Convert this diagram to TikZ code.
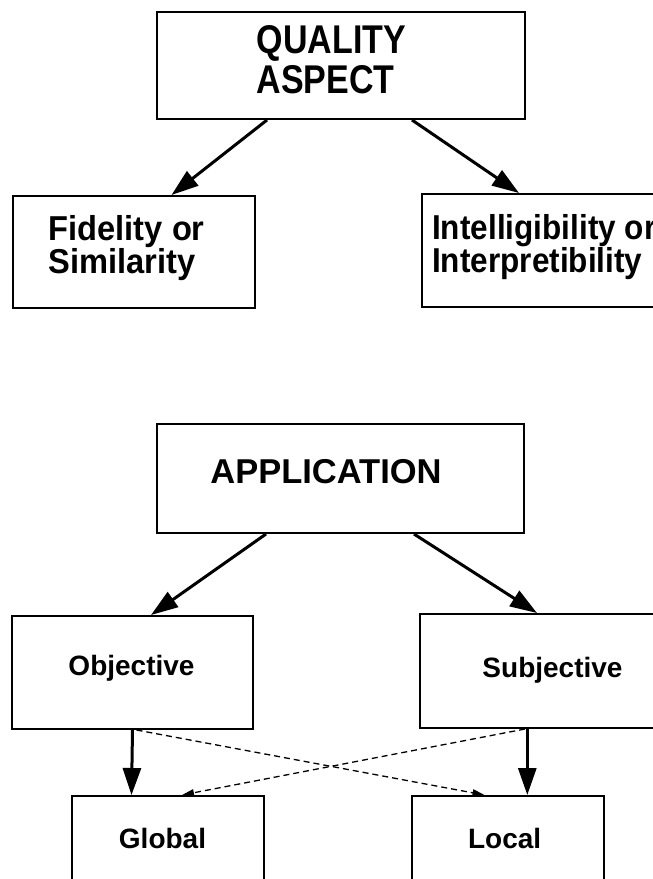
\documentclass[tikz,border=0pt]{standalone}
\usepackage{fontspec}
\setmainfont{Liberation Sans}
\usetikzlibrary{arrows.meta,calc}
\newcommand{\tallA}[1]{\scalebox{1}[1.18]{#1}}
\newcommand{\tallB}[1]{\scalebox{1.02}[1.08]{#1}}
\newcommand{\tallC}[1]{\scalebox{0.985}[1.08]{#1}}
\begin{document}
\begin{tikzpicture}[x=1pt,y=-1pt,
  box/.style={draw, line width=2pt, rectangle, inner sep=0pt},
  lbl/.style={inner sep=0pt, align=left},
  bigtxt/.style={font=\bfseries\fontsize{34}{40}\selectfont},
  aptxt/.style={font=\bfseries\fontsize{34.5}{37}\selectfont},
  midtxt/.style={font=\bfseries\fontsize{32}{33.5}\selectfont},
  smltxt/.style={font=\bfseries\fontsize{28}{30}\selectfont},
  arr/.style={line width=3pt, -{Triangle[length=27pt,width=18pt]}},
  darr/.style={line width=1.3pt, dash pattern=on 6pt off 4pt, -{Triangle[length=12pt,width=7pt]}}
]
\useasboundingbox (0,0) rectangle (653,879);
\clip (0,0) rectangle (653,879);

% boxes
\node[box, minimum width=368pt, minimum height=107pt] (qa) at (340.5,65.5) {};
\node[box, minimum width=242pt, minimum height=112pt] (fs) at (134,252) {};
\node[box, minimum width=248pt, minimum height=113pt] (ii) at (546,250.5) {};
\node[box, minimum width=367pt, minimum height=109pt] (ap) at (340.5,478.5) {};
\node[box, minimum width=241pt, minimum height=113pt] (ob) at (132.5,672.5) {};
\node[box, minimum width=260pt, minimum height=114pt] (su) at (550,671) {};
\node[box, minimum width=192pt, minimum height=104pt] (gl) at (167.5,848) {};
\node[box, minimum width=192pt, minimum height=104pt] (lo) at (507.5,848) {};

% texts
\node[lbl, bigtxt, anchor=west] (qat) at (256.5,59.5) {\tallA{QUALITY}\\\tallA{ASPECT}};
\node[lbl, midtxt, anchor=west] (fst) at (48.5,248) {\tallB{Fidelity or}\\\tallB{Similarity}};
\node[lbl, midtxt, anchor=west] (iit) at (432,247) {\tallC{Intelligibility or}\\\tallC{Interpretibility}};
\node[lbl, aptxt, anchor=base] (apt) at (326,483) {APPLICATION};
\node[lbl, smltxt, anchor=base] (obt) at (131.5,675) {Objective};
\node[lbl, smltxt, anchor=base] (sut) at (552.5,677) {Subjective};
\node[lbl, smltxt, anchor=base] (glt) at (162.5,848) {Global};
\node[lbl, smltxt, anchor=base] (lot) at (504.6,848) {Local};

% connectors
\draw[arr] ($(qa.south west)+(111.5,0)$) -- ($(fs.north west)+(159.5,0)$);
\draw[arr] ($(qa.south west)+(256.5,0)$) -- ($(ii.north west)+(98,0)$);
\draw[arr] ($(ap.south west)+(110,0)$) -- ($(ob.north west)+(140,0)$);
\draw[arr] ($(ap.south west)+(258,0)$) -- ($(su.north west)+(118,0)$);
\draw[arr] (ob.south) -- ($(gl.north west)+(61,0)$);
\draw[arr] ($(su.south west)+(108.3,0)$) -- ($(lo.north west)+(116.8,0)$);
\draw[darr] ($(ob.south west)+(125.5,0)$) -- ($(lo.north west)+(74,0)$);
\draw[darr] ($(su.south west)+(106,0)$) -- ($(gl.north west)+(111.5,0)$);
\end{tikzpicture}
\end{document}
